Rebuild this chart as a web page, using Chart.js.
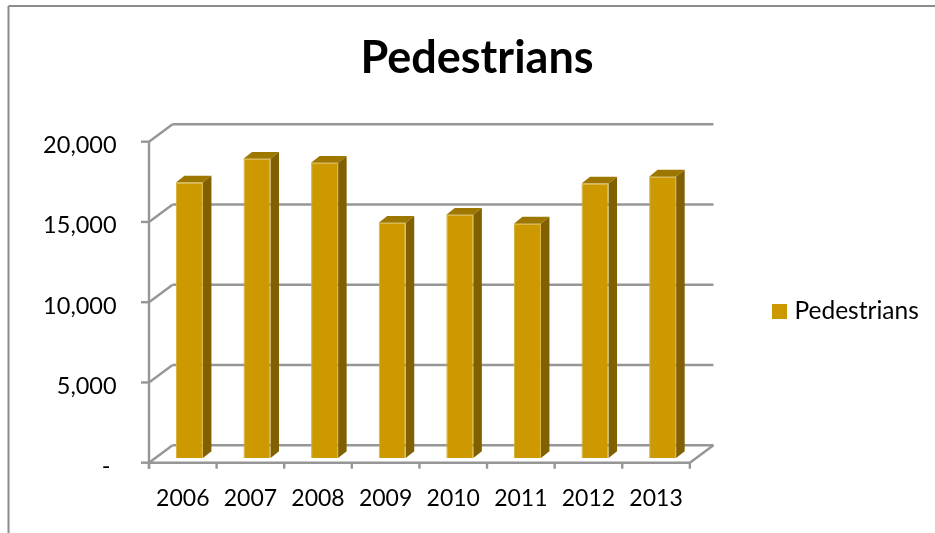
<!DOCTYPE html>
<html>
<head>
<meta charset="utf-8">
<title>Pedestrians</title>
<script src="https://cdn.jsdelivr.net/npm/chart.js@4"></script>
<style>
  html, body { margin: 0; padding: 0; background: #fff; }
  canvas { display: block; }
</style>
</head>
<body>
<canvas id="pedChart" width="935" height="533"></canvas>
<script>
const years = ["2006", "2007", "2008", "2009", "2010", "2011", "2012", "2013"];
const pedestrians = [17160, 18640, 18400, 14660, 15160, 14600, 17100, 17530];
const yTicks = [0, 5000, 10000, 15000, 20000];

const LINE = "#969696";
const FRONT = "#CC9900";
const EDGE = "#D9AE2E";
const TOP = "#9E7700";
const SIDE = "#806000";
const FONT = "Lato";

// the library draws the bars on the middle plane of the fake 3D box,
// front and back planes are offset from it
const frontDx = -6.6, frontDy = 4.7;
const backDx = 17, backDy = -12.8;
const depthDx = 8.5, depthDy = -6.8;

// legend marker as an image, so the text can sit closer than boxWidth allows
const marker = document.createElement("canvas");
marker.width = 15;
marker.height = 15;
const markerCtx = marker.getContext("2d");
markerCtx.fillStyle = FRONT;
markerCtx.fillRect(0, 0, 15, 15);

function line(ctx, x1, y1, x2, y2) {
  ctx.beginPath();
  ctx.moveTo(x1, y1);
  ctx.lineTo(x2, y2);
  ctx.stroke();
}

function poly(ctx, pts, color) {
  ctx.fillStyle = color;
  ctx.beginPath();
  pts.forEach((p, i) => (i ? ctx.lineTo(p[0], p[1]) : ctx.moveTo(p[0], p[1])));
  ctx.closePath();
  ctx.fill();
}

const box3d = {
  id: "box3d",
  afterLayout(chart) {
    // legend and title are not where the layout would put them
    const lg = chart.legend;
    lg.left += 70.25;
    lg.right += 70.25;
    lg.top += 45;
    lg.bottom += 45;
    chart.titleBlock.left += 47.75;
    chart.titleBlock.right += 47.75;
  },
  beforeDraw(chart) {
    const ctx = chart.ctx;
    ctx.save();
    ctx.strokeStyle = "#8c8c8c";
    ctx.lineWidth = 2;
    line(ctx, 8.5, 533, 8.5, 6);
    line(ctx, 8.5, 6, 935, 6);
    ctx.restore();
  },
  beforeDatasetsDraw(chart) {
    const ctx = chart.ctx;
    const { left, right, bottom } = chart.chartArea;
    const y = chart.scales.y;
    const fl = left + frontDx, fr = right + frontDx;
    const bl = left + backDx, br = right + backDx;

    ctx.save();
    ctx.strokeStyle = LINE;
    ctx.lineWidth = 2.4;

    y.ticks.forEach((t) => {
      const py = y.getPixelForValue(t.value);
      line(ctx, fl - 8, py + frontDy, fl, py + frontDy);
      line(ctx, fl, py + frontDy, bl, py + backDy);
      line(ctx, bl, py + backDy, br, py + backDy);
    });
    line(ctx, fl, y.getPixelForValue(20000) + frontDy, fl, bottom + frontDy + 6);
    // floor front edge and right edge
    line(ctx, fl, bottom + frontDy, fr, bottom + frontDy);
    line(ctx, fr, bottom + frontDy, br, bottom + backDy);
    // category ticks
    const step = (fr - fl) / years.length;
    for (let i = 0; i <= years.length; i++) {
      line(ctx, fl + step * i, bottom + frontDy, fl + step * i, bottom + frontDy + 6);
    }

    // bar top and side faces
    chart.getDatasetMeta(0).data.forEach((bar) => {
      const p = bar.getProps(["x", "y", "base", "width"], true);
      const l = p.x - p.width / 2, r = p.x + p.width / 2;
      poly(ctx, [[l, p.y], [l + depthDx, p.y + depthDy], [r + depthDx, p.y + depthDy], [r, p.y]], TOP);
      poly(ctx, [[r, p.y], [r + depthDx, p.y + depthDy], [r + depthDx, p.base + depthDy], [r, p.base]], SIDE);
    });
    ctx.restore();
  },
};

new Chart(document.getElementById("pedChart"), {
  type: "bar",
  data: {
    labels: years,
    datasets: [
      {
        label: "Pedestrians",
        data: pedestrians,
        backgroundColor: FRONT,
        borderColor: EDGE,
        borderWidth: 1,
        barPercentage: 0.4,
        categoryPercentage: 1,
      },
    ],
  },
  plugins: [box3d],
  options: {
    responsive: false,
    animation: false,
    layout: { padding: { right: 76.5 } },
    plugins: {
      title: {
        display: true,
        text: "Pedestrians",
        color: "#000",
        font: { family: FONT, size: 45, weight: "bold" },
        padding: { top: 31, bottom: 52 },
      },
      legend: {
        position: "right",
        labels: {
          color: "#000",
          usePointStyle: true,
          pointStyle: marker,
          pointStyleWidth: 5.5,
          font: { family: FONT, size: 24.5 },
        },
      },
      tooltip: { enabled: false },
    },
    scales: {
      x: {
        grid: { display: false },
        border: { display: false },
        afterFit(scale) {
          scale.height = 75;
        },
        ticks: {
          color: "#000",
          font: { family: FONT, size: 23 },
          labelOffset: -6.6,
          padding: 19,
          maxRotation: 0,
        },
      },
      y: {
        min: 0,
        max: 20000,
        grid: { display: false },
        border: { display: false },
        afterFit(scale) {
          scale.width = 155.6;
        },
        afterBuildTicks(scale) {
          scale.ticks = yTicks.map((v) => ({ value: v }));
        },
        ticks: {
          color: "#000",
          font: { family: FONT, size: 23.5 },
          labelOffset: 8.5,
          padding: 31,
          callback: (v) => (v === 0 ? "-\u00A0" : v.toLocaleString("en-US")),
        },
      },
    },
  },
});
</script>
</body>
</html>
